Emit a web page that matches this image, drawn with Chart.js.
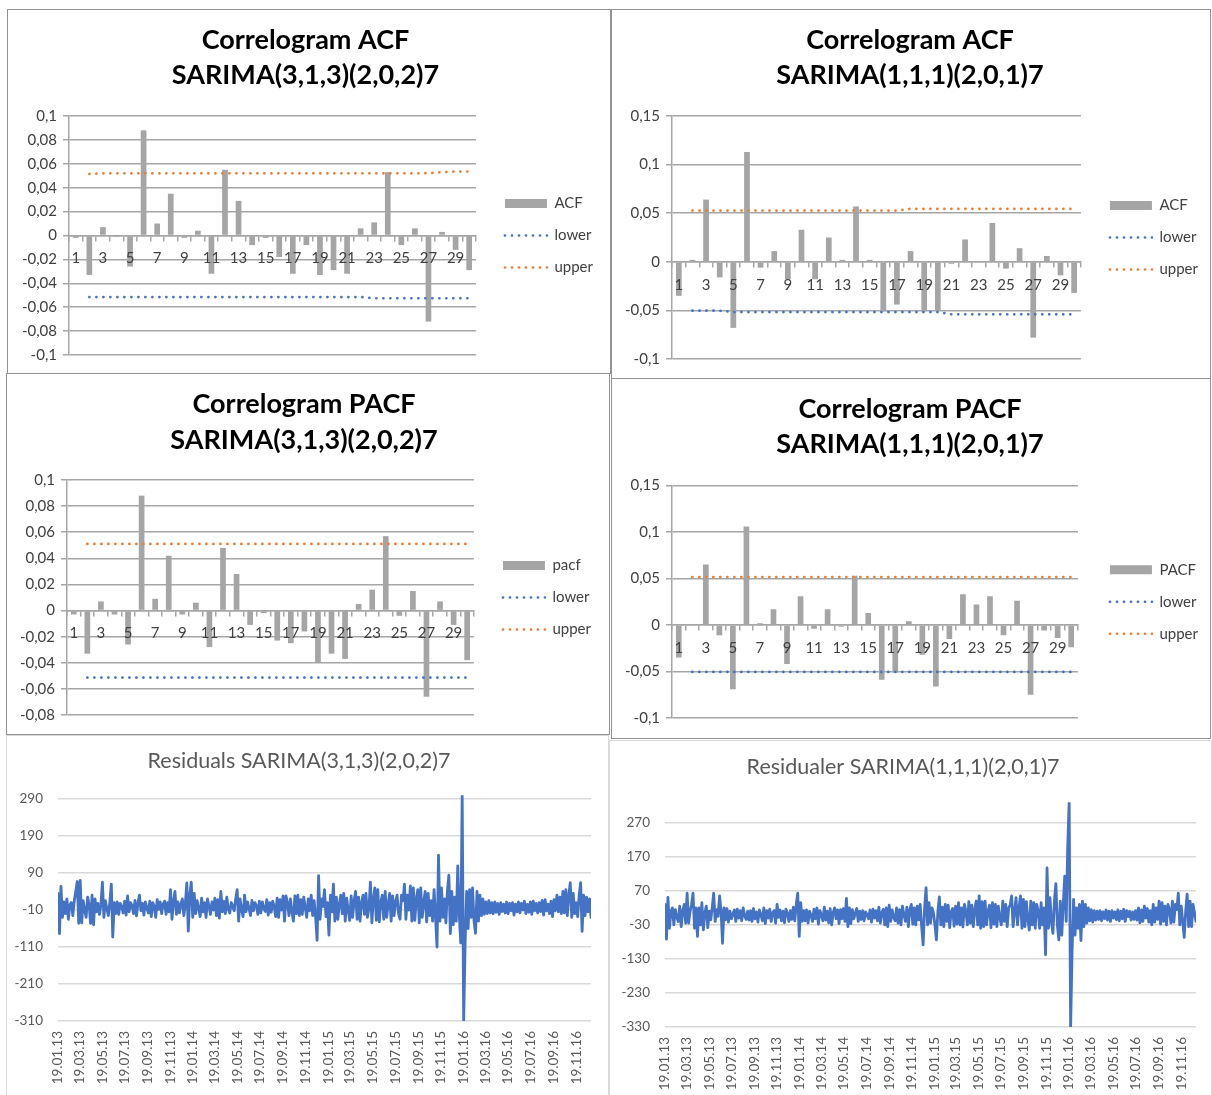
<!doctype html>
<html>
<head>
	<meta charset="utf-8">
	<title>SARIMA diagnostics</title>
	<script src="https://cdn.jsdelivr.net/npm/chart.js@4.4.1/dist/chart.umd.min.js"></script>
	<style>
		body {
			margin: 0;
			background: #fff;
		}
		#page {
			position: relative;
			width: 1212px;
			height: 1095px;
			overflow: hidden;
		}
		.panel {
			position: absolute;
			box-sizing: border-box;
			border: 1px solid #929292;
			background: #fff;
		}
		.panel.light {
			border-color: #d9d9d9;
		}
		.panel canvas {
			display: block;
		}
	</style>
</head>

<body>
<div id="page">
<!--	correlograms-->
	<div class="panel" style="left:7px;top:9px;width:604px;height:365px"><canvas id="acf313" width="602" height="363"></canvas></div>
	<div class="panel" style="left:611px;top:9px;width:600px;height:370px"><canvas id="acf111" width="598" height="368"></canvas></div>
	<div class="panel" style="left:6px;top:373px;width:604px;height:362px"><canvas id="pacf313" width="602" height="360"></canvas></div>
	<div class="panel" style="left:611px;top:378px;width:600px;height:361px"><canvas id="pacf111" width="598" height="359"></canvas></div>
<!--	residual series-->
	<div class="panel light" style="left:6px;top:735px;width:603px;height:362px"><canvas id="res313" width="601" height="360"></canvas></div>
	<div class="panel light" style="left:609px;top:740px;width:603px;height:357px"><canvas id="res111" width="601" height="355"></canvas></div>
</div>

<script>
	var lags = [1, 2, 3, 4, 5, 6, 7, 8, 9, 10, 11, 12, 13, 14, 15, 16, 17, 18, 19, 20, 21, 22, 23, 24, 25, 26, 27, 28, 29, 30];

	// SARIMA(3,1,3)(2,0,2)7
	var acf313 = [-0.002, -0.033, 0.007, -0.001, -0.026, 0.088, 0.010, 0.035, -0.002, 0.004, -0.032, 0.055, 0.029, -0.008, -0.002, -0.018, -0.032, -0.008, -0.033, -0.029, -0.032, 0.006, 0.011, 0.053, -0.008, 0.006, -0.072, 0.003, -0.012, -0.029];
	var acf313Upper = [null, 0.0515, 0.052, 0.052, 0.052, 0.052, 0.052, 0.052, 0.052, 0.052, 0.052, 0.052, 0.052, 0.052, 0.052, 0.052, 0.052, 0.052, 0.052, 0.052, 0.052, 0.052, 0.052, 0.052, 0.052, 0.052, 0.0522, 0.053, 0.0535, 0.0535];
	var acf313Lower = [null, -0.0515, -0.0515, -0.0515, -0.0515, -0.0515, -0.0515, -0.0515, -0.0515, -0.0515, -0.0515, -0.0515, -0.0515, -0.0515, -0.0515, -0.0515, -0.0515, -0.0515, -0.0515, -0.0515, -0.0515, -0.0515, -0.0525, -0.0525, -0.0525, -0.0525, -0.0525, -0.0525, -0.0525, -0.0525];
	var pacf313 = [-0.003, -0.033, 0.007, -0.003, -0.026, 0.088, 0.009, 0.042, -0.003, 0.006, -0.028, 0.048, 0.028, -0.011, -0.002, -0.023, -0.025, -0.016, -0.040, -0.033, -0.037, 0.005, 0.016, 0.057, -0.004, 0.015, -0.066, 0.007, -0.011, -0.038];
	var pacf313Upper = [null, 0.051, 0.051, 0.051, 0.051, 0.051, 0.051, 0.051, 0.051, 0.051, 0.051, 0.051, 0.051, 0.051, 0.051, 0.051, 0.051, 0.051, 0.051, 0.051, 0.051, 0.051, 0.051, 0.051, 0.051, 0.051, 0.051, 0.051, 0.051, 0.051];
	var pacf313Lower = [null, -0.0513, -0.0513, -0.0513, -0.0513, -0.0513, -0.0513, -0.0513, -0.0513, -0.0513, -0.0513, -0.0513, -0.0513, -0.0513, -0.0513, -0.0513, -0.0513, -0.0513, -0.0513, -0.0513, -0.0513, -0.0513, -0.0513, -0.0513, -0.0513, -0.0513, -0.0513, -0.0513, -0.0513, -0.0513];

	// SARIMA(1,1,1)(2,0,1)7
	var acf111 = [-0.035, 0.002, 0.064, -0.016, -0.068, 0.113, -0.006, 0.011, -0.018, 0.033, -0.018, 0.025, 0.002, 0.057, 0.002, -0.051, -0.044, 0.011, -0.051, -0.050, -0.002, 0.023, 0, 0.040, -0.007, 0.014, -0.078, 0.006, -0.014, -0.032];
	var acf111Upper = [null, 0.0527, 0.0527, 0.0527, 0.0527, 0.0527, 0.0527, 0.0527, 0.0527, 0.0527, 0.0527, 0.0527, 0.0527, 0.0527, 0.0527, 0.0527, 0.0527, 0.0545, 0.0545, 0.0545, 0.0545, 0.0545, 0.0545, 0.0545, 0.0545, 0.0545, 0.0545, 0.0545, 0.0545, 0.0545];
	var acf111Lower = [null, -0.0503, -0.0503, -0.0503, -0.0517, -0.0517, -0.0517, -0.0517, -0.0517, -0.0517, -0.0517, -0.0517, -0.0517, -0.0517, -0.0517, -0.0517, -0.0517, -0.0517, -0.0517, -0.0517, -0.054, -0.054, -0.054, -0.054, -0.054, -0.054, -0.054, -0.054, -0.054, -0.054];
	var pacf111 = [-0.035, 0, 0.065, -0.011, -0.069, 0.106, 0.002, 0.017, -0.042, 0.031, -0.004, 0.017, -0.002, 0.053, 0.013, -0.059, -0.051, 0.004, -0.032, -0.066, -0.015, 0.033, 0.022, 0.031, -0.011, 0.026, -0.075, -0.006, -0.014, -0.024];
	var pacf111Upper = [null, 0.0516, 0.0516, 0.0516, 0.0516, 0.0516, 0.0516, 0.0516, 0.0516, 0.0516, 0.0516, 0.0516, 0.0516, 0.0516, 0.0516, 0.0516, 0.0516, 0.0516, 0.0516, 0.0516, 0.0516, 0.0516, 0.0516, 0.0516, 0.0516, 0.0516, 0.0516, 0.0516, 0.0516, 0.0516];
	var pacf111Lower = [null, -0.0505, -0.0505, -0.0505, -0.0505, -0.0505, -0.0505, -0.0505, -0.0505, -0.0505, -0.0505, -0.0505, -0.0505, -0.0505, -0.0505, -0.0505, -0.0505, -0.0505, -0.0505, -0.0505, -0.0505, -0.0505, -0.0505, -0.0505, -0.0505, -0.0505, -0.0505, -0.0505, -0.0505, -0.0505];

	// residuals, one value every 4 days from 19.01.13
	var resStartDate = Date.UTC(2013, 0, 19);
	var resStepDays = 4;
	var res313 = [
		35, -74, 54, -30, 12, -20, 20, -35, 4, 10, -25, 15, 40, 67, -46, 70, -45, 15, -10, -30,
		25, 5, -46, 30, -50, 20, -15, 8, -22, 5, 65, -30, 15, -6, -25, 10, 60, -83, 10, -20,
		12, -22, 8, 0, -18, 14, -24, 28, -15, 10, 2, -20, 16, -26, 8, 30, -12, 8, -24, 12,
		-5, -18, 14, -28, 10, 0, -30, 18, -8, 12, -20, 6, 14, -22, 10, -15, 45, -35, 12, 40,
		-22, 12, -18, 5, 20, -25, 8, 63, -67, 30, 65, -30, 35, -20, 15, -5, -28, 22, -15, 10,
		-30, 20, 0, -22, 12, -10, 22, -25, 18, -32, 40, -15, 14, -20, 25, -8, -18, 10, 0, -12,
		20, 45, -40, 20, -10, -28, 30, -15, 12, -5, -25, 16, -12, 10, 2, -22, 14, -18, 12, -6,
		-14, 18, -24, 10, -16, 14, 0, -28, 22, -30, 18, -10, 28, -40, 28, 10, -25, 20, -15, -40,
		28, -20, 30, -25, 18, -22, 25, -5, -30, 20, -12, 30, -25, 15, -30, -92, 83, -35, 20, 0,
		45, -28, 10, -78, 30, -15, 60, -40, 25, -35, 5, 30, -20, 35, -40, 22, -10, -38, 28, -30,
		15, 40, -35, 25, -40, 10, 30, -22, 35, -30, -5, 65, -45, 20, 50, -38, 45, -42, 10, 30,
		-35, 40, -30, 5, 35, -40, 28, -25, 12, 30, -20, -35, 30, 15, 60, -35, 30, -10, 55, -40,
		50, -38, 20, 45, -45, 50, -30, 10, 40, -42, 35, -25, 15, -40, 45, -30, -110, 138, -40, 50,
		-30, 20, -45, 40, 84, -74, 40, -50, 25, -40, 109, -20, -99, 300, -310, -96, 40, -60, 45, -30,
		50, -40, -73, 40, -40, 30, -25, 20, -22, 12, -20, 15, -18, 10, -20, 12, -16, 8, -22, 10,
		-14, 6, -18, 12, -20, 8, -12, 10, -24, 6, -15, 12, -18, 8, -10, 14, -20, 5, -16, 12,
		-22, 14, -12, 8, -18, 10, -14, 16, -24, 18, -12, 6, -20, 14, -28, 18, -12, 30, -15, 25,
		-20, 40, -18, 45, -25, 30, 64, -30, 35, -20, 10, -28, 30, 64, -68, 30, -25, 25, -15, 20,
		-30
	];
	var res111 = [
		30, -72, 51, -40, 8, 20, -30, 15, -8, -20, 25, -35, 10, 30, -25, 63, -25, 10, 30, 63,
		-40, 20, -64, 20, -30, 35, -45, 5, 25, -38, 10, -15, 20, 63, -20, 15, -5, 55, 10, -84,
		20, -15, 18, -22, 10, -12, 2, 14, -20, 16, -10, 12, -18, 20, -4, -14, 10, -16, 12, -20,
		18, -12, 8, -22, 14, 0, -18, 20, -26, 12, -10, 16, -20, 6, 12, -25, 30, -8, 14, -18,
		10, -24, 16, 4, -20, 12, -14, 22, -18, 30, 63, -64, 35, -20, 12, -18, 14, -25, 10, -2,
		-20, 16, -12, 20, -28, 12, 0, -18, 22, -16, 10, -24, 18, -30, 5, 20, -12, 14, -26, 15,
		-12, 18, -20, 48, -35, 20, -26, 15, -12, 4, 18, -20, 10, -14, 12, -18, 8, 0, -12, 14,
		-22, 16, -10, 12, -18, 22, -25, 6, 16, -30, 20, -35, 28, -20, 14, -8, -18, 20, -25, 15,
		-30, 25, 0, -20, 22, -35, 14, 30, -28, 20, -30, 25, -15, 30, -35, -89, 20, 79, -30, 35,
		-25, 20, 5, -30, -74, 10, 52, -30, 22, -35, 30, -20, 28, -38, 8, 18, -34, 25, -28, 35,
		-30, 20, -36, 30, 10, -30, 38, -25, 28, -35, 15, 40, -30, 55, -40, 38, -35, 40, -30, 10,
		28, -38, 35, -28, 30, -35, 25, -10, -30, 40, -20, 30, -35, 20, 28, 55, -35, 10, 50, -30,
		20, 55, -40, 45, -35, 38, -15, -45, 40, -30, 35, -40, 30, 12, -40, 35, -30, 20, -118, 137,
		-40, 50, -20, -55, 40, 91, -30, -74, 40, -60, 30, 113, -20, 196, 330, -330, -108, 45, -60, 20,
		-40, 30, -76, 40, -35, 30, -25, 20, -18, 15, -22, 12, -16, 10, -14, 12, -18, 8, -12, 14,
		-16, 10, -20, 12, -10, 8, -15, 14, -18, 10, -12, 16, -20, 12, -6, 10, -16, 8, -14, 12,
		-16, 20, -24, 14, -20, 25, -10, 18, -22, 12, -30, 30, -22, 20, -14, 40, -28, 35, -20, 25,
		-30, 30, 15, -25, 40, -22, 30, 15, 63, -30, 25, -20, -67, 10, 60, -35, 40, -35, 30, 5,
		-20
	];
	var resTickLabels = ['19.01.13', '19.03.13', '19.05.13', '19.07.13', '19.09.13', '19.11.13',
		'19.01.14', '19.03.14', '19.05.14', '19.07.14', '19.09.14', '19.11.14',
		'19.01.15', '19.03.15', '19.05.15', '19.07.15', '19.09.15', '19.11.15',
		'19.01.16', '19.03.16', '19.05.16', '19.07.16', '19.09.16', '19.11.16'];
	var res313Ticks = [-310, -210, -110, -10, 90, 190, 290];
	var res111Ticks = [-330, -230, -130, -30, 70, 170, 270];

	var barGrey = '#a5a5a5';
	var lowerBlue = '#4472c4';
	var upperOrange = '#ed7d31';
	var axisGrey = '#a6a6a6';
	var labelDark = '#404040';

	Chart.defaults.font.family = "Lato, 'Open Sans', sans-serif";

	// day offsets for the x axis of the residual plots
	var resDays = res313.map((_, i) => i * resStepDays);
	var resTickDays = resTickLabels.map(function (s) {
		var p = s.split('.');
		return (Date.UTC(2000 + Number(p[2]), Number(p[1]) - 1, Number(p[0])) - resStartDate) / 86400000;
	});

	function commaTick(v) {
		var r = Math.round(v * 1000) / 1000;
		return String(r === 0 ? 0 : r).replace('.', ',');
	}

	// bar swatch for the coefficients, dotted line swatch for the bounds
	function legendItems(chart) {
		var items = Chart.defaults.plugins.legend.labels.generateLabels(chart);
		items.forEach(function (item) {
			var ds = chart.data.datasets[item.datasetIndex];
			if (ds.type === 'line') {
				item.pointStyle = 'line';
				item.lineDash = ds.borderDash;
				item.lineCap = 'round';
				item.lineWidth = ds.borderWidth;
				item.strokeStyle = ds.borderColor;
			} else {
				item.pointStyle = 'rect';
				item.lineWidth = 0;
			}
		});
		return items.sort((a, b) => a.datasetIndex - b.datasetIndex);
	}

	function boundLine(label, values, color) {
		return {
			type: 'line',
			label: label,
			data: values,
			borderColor: color,
			backgroundColor: color,
			borderWidth: 2.7,
			borderDash: [0.1, 6.9],
			borderCapStyle: 'round',
			pointRadius: 0,
			order: 0
		};
	}

	function correlogram(id, c) {
		return new Chart(document.getElementById(id), {
			type: 'bar',
			data: {
				labels: lags,
				datasets: [
					{
						type: 'bar',
						label: c.name,
						data: c.values,
						backgroundColor: barGrey,
						barPercentage: 0.42,
						categoryPercentage: 1,
						order: 1
					},
					boundLine('lower', c.lower, lowerBlue),
					boundLine('upper', c.upper, upperOrange)
				]
			},
			options: {
				responsive: false,
				animation: false,
				layout: {
					padding: { left: 0, top: 0, right: c.padRight, bottom: c.padBottom }
				},
				plugins: {
					tooltip: { enabled: false },
					title: {
						display: true,
						text: c.title,
						color: '#000',
						font: { size: 27, weight: 'bold', lineHeight: '35.5px' },
						padding: { top: c.titleTop, bottom: c.titleBottom }
					},
					legend: {
						position: 'right',
						align: 'center',
						fullSize: false,
						maxWidth: 160,
						labels: {
							usePointStyle: true,
							pointStyleWidth: 42,
							boxHeight: 9,
							padding: 17,
							color: labelDark,
							font: { size: 15 },
							generateLabels: legendItems
						}
					}
				},
				scales: {
					x: {
						position: { y: 0 },
						grid: {
							display: true,
							drawOnChartArea: false,
							drawTicks: true,
							tickLength: 5,
							color: axisGrey,
							lineWidth: 1.5,
							offset: true
						},
						border: { display: true, color: axisGrey, width: 1.5 },
						ticks: {
							autoSkip: false,
							maxRotation: 0,
							padding: 9,
							z: 1,
							color: labelDark,
							font: { size: 15 },
							callback: (v, i) => i % 2 === 0 ? lags[i] : ''
						}
					},
					y: {
						min: c.min,
						max: c.max,
						ticks: {
							stepSize: c.step,
							padding: 6,
							color: labelDark,
							font: { size: 15 },
							callback: commaTick
						},
						grid: { color: axisGrey, lineWidth: 1.5, drawTicks: true, tickLength: 6 },
						border: { display: true, color: axisGrey, width: 1.5 },
						afterFit: function (s) { s.width = c.axisWidth; }
					},
					// spacer between plot area and legend
					gap: {
						type: 'linear',
						axis: 'y',
						position: 'right',
						display: true,
						ticks: { display: false },
						grid: { display: false },
						border: { display: false },
						afterFit: function (s) { s.width = c.gap; }
					}
				}
			}
		});
	}

	function residualPlot(id, c) {
		return new Chart(document.getElementById(id), {
			type: 'line',
			data: {
				labels: resDays,
				datasets: [{
					label: c.title,
					data: c.values,
					borderColor: lowerBlue,
					borderWidth: 2.8,
					borderJoinStyle: 'round',
					borderCapStyle: 'round',
					pointRadius: 0,
					tension: 0
				}]
			},
			options: {
				responsive: false,
				animation: false,
				layout: {
					padding: { left: 0, top: 0, right: c.padRight, bottom: 0 }
				},
				plugins: {
					legend: { display: false },
					tooltip: { enabled: false },
					title: {
						display: true,
						text: c.title,
						color: '#595959',
						font: { size: 21.5, weight: 'normal', lineHeight: '26px' },
						padding: { top: c.titleTop, bottom: c.titleBottom }
					}
				},
				scales: {
					x: {
						type: 'linear',
						min: 0,
						max: resDays[resDays.length - 1],
						afterBuildTicks: function (s) { s.ticks = resTickDays.map(v => ({ value: v })); },
						ticks: {
							autoSkip: false,
							minRotation: 90,
							maxRotation: 90,
							padding: 10,
							color: '#595959',
							font: { size: 13.5 },
							callback: (v, i) => resTickLabels[i]
						},
						grid: { display: false, drawTicks: false },
						border: { display: false },
						afterFit: function (s) { s.height = c.xAxisHeight; }
					},
					y: {
						min: c.min,
						max: c.max,
						afterBuildTicks: function (s) { s.ticks = c.ticks.map(v => ({ value: v })); },
						ticks: { padding: 15, color: '#595959', font: { size: 13.5 } },
						grid: { color: '#d9d9d9', lineWidth: 1.5, drawTicks: false },
						border: { display: false },
						afterFit: function (s) { s.width = c.axisWidth; }
					}
				}
			}
		});
	}

	correlogram('acf313', {
		title: ['Correlogram ACF', 'SARIMA(3,1,3)(2,0,2)7'],
		name: 'ACF', values: acf313, lower: acf313Lower, upper: acf313Upper,
		min: -0.1, max: 0.1, step: 0.02,
		axisWidth: 61, gap: 12, padRight: 7, padBottom: 18, titleTop: 12.5, titleBottom: 22.5
	});
	correlogram('acf111', {
		title: ['Correlogram ACF', 'SARIMA(1,1,1)(2,0,1)7'],
		name: 'ACF', values: acf111, lower: acf111Lower, upper: acf111Upper,
		min: -0.1, max: 0.15, step: 0.05,
		axisWidth: 60, gap: 12, padRight: 2, padBottom: 19, titleTop: 12.5, titleBottom: 22.5
	});
	correlogram('pacf313', {
		title: ['Correlogram PACF', 'SARIMA(3,1,3)(2,0,2)7'],
		name: 'pacf', values: pacf313, lower: pacf313Lower, upper: pacf313Upper,
		min: -0.08, max: 0.1, step: 0.02,
		axisWidth: 60, gap: 12, padRight: 8, padBottom: 19, titleTop: 13, titleBottom: 22
	});
	correlogram('pacf111', {
		title: ['Correlogram PACF', 'SARIMA(1,1,1)(2,0,1)7'],
		name: 'PACF', values: pacf111, lower: pacf111Lower, upper: pacf111Upper,
		min: -0.1, max: 0.15, step: 0.05,
		axisWidth: 60, gap: 15, padRight: 2, padBottom: 20, titleTop: 12.5, titleBottom: 23
	});

	residualPlot('res313', {
		title: 'Residuals SARIMA(3,1,3)(2,0,2)7',
		values: res313, ticks: res313Ticks, min: -310, max: 300,
		axisWidth: 51, padRight: 17, xAxisHeight: 75, titleTop: 12, titleBottom: 21.3
	});
	residualPlot('res111', {
		title: 'Residualer SARIMA(1,1,1)(2,0,1)7',
		values: res111, ticks: res111Ticks, min: -330, max: 330,
		axisWidth: 55, padRight: 15, xAxisHeight: 69, titleTop: 13, titleBottom: 22.3
	});
</script>
</body>
</html>
